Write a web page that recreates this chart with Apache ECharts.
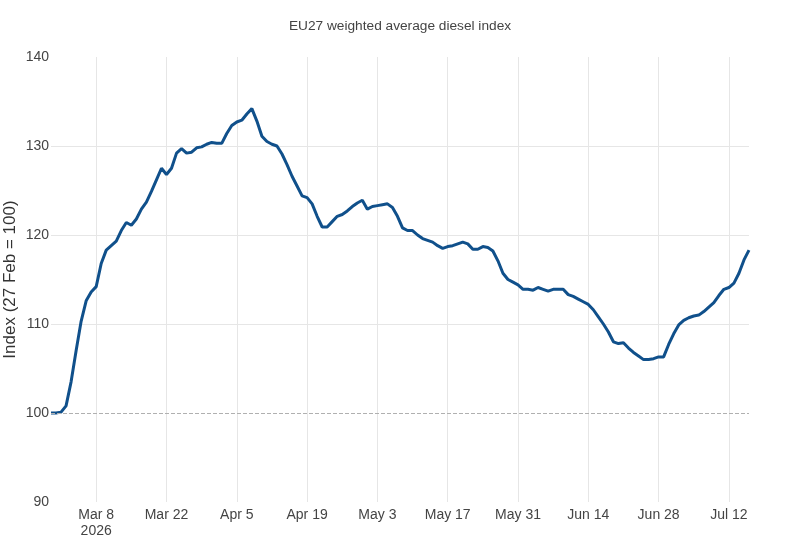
<!DOCTYPE html>
<html>
<head>
<meta charset="utf-8">
<script src="https://cdn.jsdelivr.net/npm/echarts@6/dist/echarts.min.js"></script>
<style>
html,body{margin:0;padding:0;background:#fff;}
#chart{width:800px;height:538px;}
</style>
</head>
<body>
<div id="chart"></div>
<script>
// Daily series starting 27 Feb 2026
var startDate = '2026-02-27';
var indexValues = [
  100.0,100.0,100.1,100.8,103.5,107.0,110.3,112.6,113.6,114.2,
  116.8,118.3,118.8,119.3,120.5,121.4,121.1,121.8,122.9,123.7,
  124.9,126.2,127.5,126.8,127.5,129.2,129.7,129.2,129.3,129.8,
  129.9,130.2,130.4,130.3,130.3,131.4,132.3,132.7,132.9,133.6,
  134.2,132.8,131.1,130.5,130.2,130.0,129.1,127.9,126.6,125.5,
  124.4,124.2,123.5,122.1,120.9,120.9,121.5,122.1,122.3,122.7,
  123.2,123.6,123.9,122.9,123.2,123.3,123.4,123.5,123.1,122.1,
  120.8,120.5,120.5,120.0,119.6,119.4,119.2,118.8,118.5,118.7,
  118.8,119.0,119.2,119.0,118.4,118.4,118.7,118.6,118.2,117.1,
  115.7,115.0,114.7,114.4,113.9,113.9,113.8,114.1,113.9,113.7,
  113.9,113.9,113.9,113.3,113.1,112.8,112.5,112.2,111.6,110.8,
  110.0,109.1,108.0,107.8,107.9,107.3,106.8,106.4,106.0,106.0,
  106.1,106.3,106.3,107.7,108.9,109.9,110.4,110.7,110.9,111.0,
  111.4,111.9,112.4,113.2,113.9,114.1,114.6,115.7,117.2,118.3
];
var tickDates = ['2026-03-08','2026-03-22','2026-04-05','2026-04-19','2026-05-03','2026-05-17','2026-05-31','2026-06-14','2026-06-28','2026-07-12'];
var tickLabels = ['Mar 8\n2026','Mar 22','Apr 5','Apr 19','May 3','May 17','May 31','Jun 14','Jun 28','Jul 12'];
var yTicks = [90,100,110,120,130,140];
var baselineValue = 100;

function pad(n){return (n<10?'0':'')+n;}
var categories = [];
(function(){
  var p = startDate.split('-');
  var t0 = Date.UTC(+p[0], +p[1]-1, +p[2]);
  for (var i = 0; i < indexValues.length; i++) {
    var d = new Date(t0 + i*86400000);
    categories.push(d.getUTCFullYear()+'-'+pad(d.getUTCMonth()+1)+'-'+pad(d.getUTCDate()));
  }
})();
function isTick(idx){ return tickDates.indexOf(categories[idx]) >= 0; }

var FONT = '"Liberation Sans", Arial, sans-serif';
var chart = echarts.init(document.getElementById('chart'));
chart.setOption({
  backgroundColor: '#ffffff',
  animation: false,
  title: {
    text: 'EU27 weighted average diesel index',
    left: 'center',
    top: 14,
    textStyle: {fontFamily: FONT, fontSize: 13.7, fontWeight: 'normal', color: '#444'}
  },
  grid: {left: 51, right: 51, top: 57, bottom: 36, containLabel: false, outerBoundsMode: 'none'},
  xAxis: {
    type: 'category',
    data: categories,
    boundaryGap: false,
    axisLine: {show: false},
    axisTick: {show: false},
    axisLabel: {
      interval: function(i){ return isTick(i); },
      formatter: function(v){ var k = tickDates.indexOf(v); return k >= 0 ? tickLabels[k] : ''; },
      fontFamily: FONT, fontSize: 14, color: '#444', margin: 5, lineHeight: 16
    },
    splitLine: {
      show: true,
      interval: function(i){ return isTick(i); },
      lineStyle: {color: '#e6e6e6', width: 1}
    }
  },
  yAxis: {
    type: 'value',
    min: yTicks[0],
    max: yTicks[yTicks.length-1],
    interval: 10,
    name: 'Index (27 Feb = 100)',
    nameLocation: 'middle',
    nameGap: 32,
    nameMoveOverlap: false,
    nameTextStyle: {fontFamily: FONT, fontSize: 17, color: '#333'},
    axisLine: {show: false},
    axisTick: {show: false},
    axisLabel: {fontFamily: FONT, fontSize: 14, color: '#444', margin: 2},
    splitLine: {
      show: true,
      lineStyle: {color: ['rgba(0,0,0,0)','rgba(0,0,0,0)','#e6e6e6','#e6e6e6','#e6e6e6','rgba(0,0,0,0)'], width: 1}
    }
  },
  series: [{
    type: 'line',
    data: indexValues,
    showSymbol: false,
    symbol: 'none',
    lineStyle: {color: '#10508b', width: 3},
    itemStyle: {color: '#10508b'},
    markLine: {
      silent: true,
      symbol: 'none',
      label: {show: false},
      lineStyle: {color: '#b0b0b0', type: 'dashed', width: 1},
      data: [{yAxis: baselineValue}]
    }
  }]
});
</script>
</body>
</html>
